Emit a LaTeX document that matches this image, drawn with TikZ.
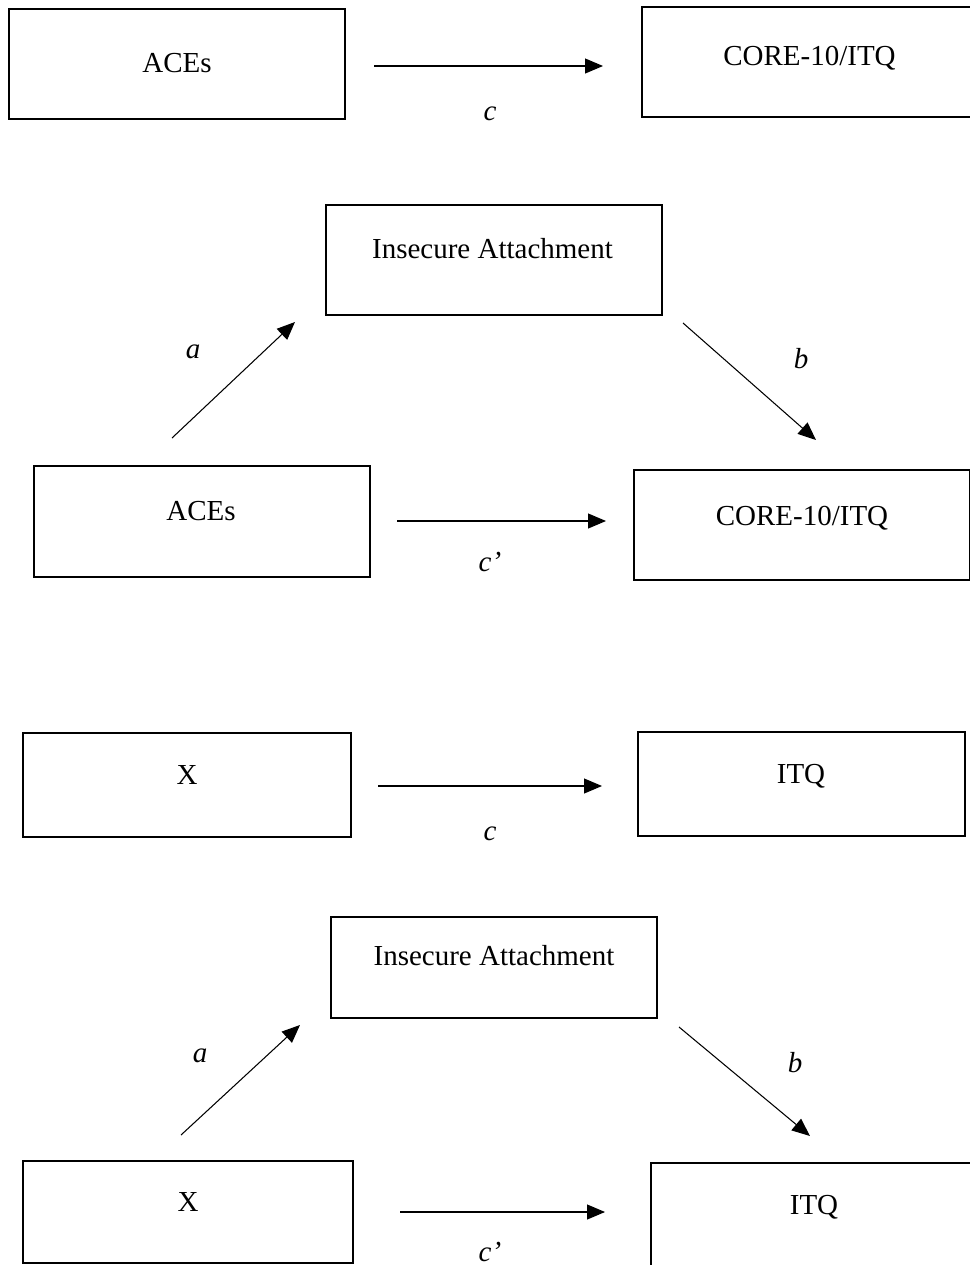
\documentclass[tikz,border=0pt]{standalone}
\usepackage{fontspec}
\setmainfont{Liberation Serif}
\usetikzlibrary{arrows.meta}
\tikzset{
  box/.style={draw=black, line width=1.6pt, rectangle, inner sep=0pt},
  txt/.style={anchor=base, inner sep=0pt, font=\fontsize{16.5}{20}\selectfont},
  path/.style={draw=black, line width=0.6pt, -{Triangle[length=0.36cm, width=0.3cm]}},
  pathlbl/.style={anchor=base, inner sep=0pt, font=\fontsize{16.5}{20}\selectfont\itshape}
}
\begin{document}
\begin{tikzpicture}[x=0.02cm, y=-0.02cm]
\clip (0,0) rectangle (970,1265);
% total effect, first model
\node[box, minimum width=6.72cm, minimum height=2.2cm] (aces1) at (177,64) {};
\node[txt] (aces1t) at (177,72) {ACEs};
\node[box, minimum width=6.7cm, minimum height=2.2cm] (core1) at (809.5,62) {};
\node[txt] (core1t) at (809.5,65) {CORE-10/ITQ};
\coordinate (c1s) at (374,66);
\coordinate (c1e) at (603,66);
\draw[path] (c1s)--(c1e);
\node[pathlbl] (c1) at (490,120) {c};
% mediation, first model
\node[box, minimum width=6.72cm, minimum height=2.2cm] (ins1) at (494,260) {};
\node[txt] (ins1t) at (492.5,258) {Insecure Attachment};
\node[box, minimum width=6.72cm, minimum height=2.22cm] (aces2) at (202,521.5) {};
\node[txt] (aces2t) at (201,520) {ACEs};
\node[box, minimum width=6.72cm, minimum height=2.2cm] (core2) at (802,525) {};
\node[txt] (core2t) at (802,525) {CORE-10/ITQ};
\coordinate (a1s) at (172,438);
\coordinate (a1e) at (295,322);
\coordinate (b1s) at (683,323);
\coordinate (b1e) at (816,440);
\coordinate (d1s) at (397,521);
\coordinate (d1e) at (606,521);
\draw[path] (a1s)--(a1e);
\draw[path] (b1s)--(b1e);
\draw[path] (d1s)--(d1e);
\node[pathlbl] (a1) at (193,358) {a};
\node[pathlbl] (b1) at (801,368) {b};
\node[pathlbl] (d1) at (490,571) {c’};
% total effect, second model
\node[box, minimum width=6.56cm, minimum height=2.08cm] (x1) at (187,785) {};
\node[txt] (x1t) at (187,784) {X};
\node[box, minimum width=6.54cm, minimum height=2.08cm] (itq1) at (801.5,784) {};
\node[txt] (itq1t) at (801,783) {ITQ};
\coordinate (c2s) at (378,786);
\coordinate (c2e) at (602,786);
\draw[path] (c2s)--(c2e);
\node[pathlbl] (c2) at (490,840) {c};
% mediation, second model
\node[box, minimum width=6.52cm, minimum height=2.02cm] (ins2) at (494,967.5) {};
\node[txt] (ins2t) at (494,965) {Insecure Attachment};
\node[box, minimum width=6.6cm, minimum height=2.04cm] (x2) at (188,1212) {};
\node[txt] (x2t) at (188,1211) {X};
\node[box, minimum width=6.52cm, minimum height=2.2cm] (itq2) at (814,1218) {};
\node[txt] (itq2t) at (814,1214) {ITQ};
\coordinate (a2s) at (181,1135);
\coordinate (a2e) at (300,1025);
\coordinate (b2s) at (679,1027);
\coordinate (b2e) at (810,1136);
\coordinate (d2s) at (400,1212);
\coordinate (d2e) at (605,1212);
\draw[path] (a2s)--(a2e);
\draw[path] (b2s)--(b2e);
\draw[path] (d2s)--(d2e);
\node[pathlbl] (a2) at (200,1062) {a};
\node[pathlbl] (b2) at (795,1072) {b};
\node[pathlbl] (d2) at (490,1261) {c’};
\end{tikzpicture}
\end{document}
